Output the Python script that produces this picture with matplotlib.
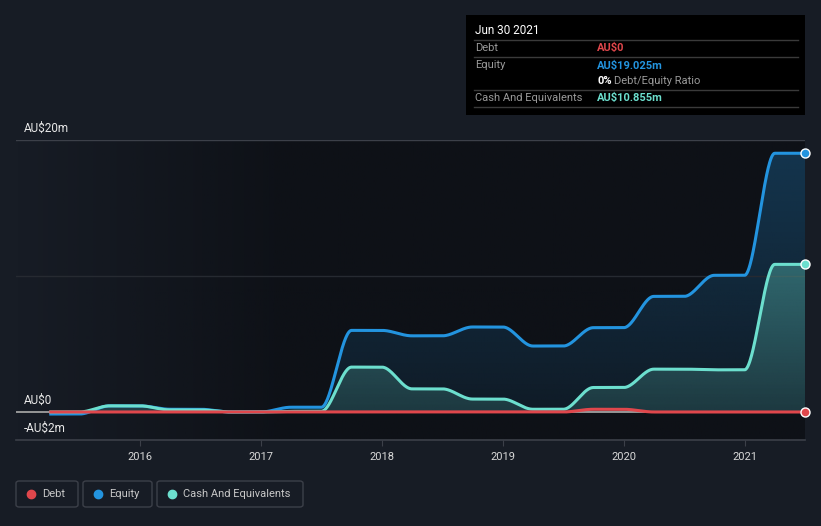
import numpy as np
import matplotlib
matplotlib.use('Agg')
from matplotlib import pyplot as plt
from matplotlib.patches import FancyBboxPatch, Rectangle
from matplotlib.lines import Line2D

plt.rcParams['font.family'] = ['Roboto', 'DejaVu Sans']

# quarterly dates (decimal years) and values in AU$ millions
dates = [2015.25, 2015.5, 2015.75, 2016.0, 2016.25, 2016.5, 2016.75, 2017.0,
         2017.25, 2017.5, 2017.75, 2018.0, 2018.25, 2018.5, 2018.75, 2019.0,
         2019.25, 2019.5, 2019.75, 2020.0, 2020.25, 2020.5, 2020.75, 2021.0,
         2021.25, 2021.5]
debt = [0, 0, 0, 0, 0, 0, 0, 0,
        0, 0, 0, 0, 0, 0, 0, 0,
        0, 0, 0.2, 0.2, 0, 0, 0, 0,
        0, 0]
equity = [-0.15, -0.15, 0.45, 0.45, 0.2, 0.2, 0.0, 0.0,
          0.35, 0.35, 6.0, 6.0, 5.6, 5.6, 6.25, 6.25,
          4.85, 4.85, 6.2, 6.2, 8.5, 8.5, 10.05, 10.05,
          19.025, 19.025]
cash = [0.0, 0.0, 0.45, 0.45, 0.15, 0.15, 0.0, 0.0,
        0.05, 0.05, 3.3, 3.3, 1.7, 1.7, 0.95, 0.95,
        0.2, 0.2, 1.8, 1.8, 3.15, 3.15, 3.1, 3.1,
        10.855, 10.855]

series_names = ['Debt', 'Equity', 'Cash And Equivalents']
series_colors = ['#e0474c', '#2394df', '#6cdfce']
year_ticks = [2016, 2017, 2018, 2019, 2020, 2021]
ytick_vals = [20, 0, -2]
ytick_labels = ['AU$20m', 'AU$0', '-AU$2m']

BG = '#171c25'
DARK = '#0e1117'
W, H = 821, 526


def pchip(x, y, xs):
    """monotone cubic interpolation (Fritsch-Carlson)"""
    x = np.asarray(x, float)
    y = np.asarray(y, float)
    h = np.diff(x)
    d = np.diff(y) / h
    n = len(x)
    m = np.zeros(n)
    for k in range(1, n - 1):
        if d[k - 1] * d[k] > 0:
            w1 = 2 * h[k] + h[k - 1]
            w2 = h[k] + 2 * h[k - 1]
            m[k] = (w1 + w2) / (w1 / d[k - 1] + w2 / d[k])
    m[0] = d[0]
    m[-1] = d[-1]
    idx = np.clip(np.searchsorted(x, xs) - 1, 0, n - 2)
    t = (xs - x[idx]) / h[idx]
    h00 = 2 * t**3 - 3 * t**2 + 1
    h10 = t**3 - 2 * t**2 + t
    h01 = -2 * t**3 + 3 * t**2
    h11 = t**3 - t**2
    return h00 * y[idx] + h10 * h[idx] * m[idx] + h01 * y[idx + 1] + h11 * h[idx] * m[idx + 1]


def px(x, y):
    return x / W, 1 - y / H


fig = plt.figure(figsize=(W / 100, H / 100), dpi=100, facecolor=BG)
ax = fig.add_axes([16 / W, (H - 440) / H, 789 / W, 300 / H])
ax.set_facecolor(BG)
xmin, xmax = 2014.975, 2021.5
ymin, ymax = -2.06, 20
ax.set_xlim(xmin, xmax)
ax.set_ylim(ymin, ymax)

# dark panel fading in from the left
grad = np.linspace(0, 1, 400)
grad = np.clip(grad / 0.35, 0, 1)
panel = np.zeros((1, 400, 4))
panel[..., :3] = matplotlib.colors.to_rgb(DARK)
panel[..., 3] = grad
ax.imshow(panel, extent=[xmin, xmax, ymin, ymax], aspect='auto', zorder=0)

xs = np.linspace(dates[0], dates[-1], 1500)
eq_s = pchip(dates, equity, xs)
ca_s = pchip(dates, cash, xs)
de_s = pchip(dates, debt, xs)


def gradient_fill(xv, yv, color, a_top, a_bot, top, z):
    poly = ax.fill_between(xv, 0, yv, color='none', lw=0, zorder=z)
    ny = 300
    img = np.zeros((ny, 2, 4))
    img[..., :3] = matplotlib.colors.to_rgb(color)
    alphas = np.linspace(a_top, a_bot, ny)
    img[..., 3] = alphas[:, None]
    im = ax.imshow(img, extent=[xv[0], xv[-1], ymin, top], aspect='auto', zorder=z)
    im.set_clip_path(poly.get_paths()[0], transform=ax.transData)
    ax.set_xlim(xmin, xmax)
    ax.set_ylim(ymin, ymax)


gradient_fill(xs, eq_s, series_colors[1], 0.28, 0.06, 19.5, 1)
gradient_fill(xs, ca_s, series_colors[2], 0.34, 0.12, 11.0, 2)

# gridlines
ax.axhline(20, color='#3c4049', lw=1, zorder=1)
ax.axhline(10, color='#262a31', lw=1, zorder=1)
ax.axhline(0, color='#a0a0a0', lw=1.3, zorder=2)

ax.plot(xs, eq_s, color=series_colors[1], lw=2.2, zorder=4, solid_capstyle='butt')
ax.plot(xs, ca_s, color=series_colors[2], lw=2.2, zorder=5, solid_capstyle='butt')
ax.plot(xs, de_s, color=series_colors[0], lw=2.2, zorder=6, solid_capstyle='butt')

for vals, c, z in [(debt, series_colors[0], 9), (equity, series_colors[1], 8), (cash, series_colors[2], 8)]:
    ax.plot([dates[-1]], [vals[-1]], 'o', ms=6.5, mfc=c, mec='white', mew=1,
            clip_on=False, zorder=z)

for s in ['top', 'right', 'left']:
    ax.spines[s].set_visible(False)
ax.spines['bottom'].set_color('#3c4049')
ax.spines['bottom'].set_linewidth(1.2)
ax.set_yticks([])
ax.set_xticks(year_ticks)
ax.set_xticklabels([str(y) for y in year_ticks])
ax.tick_params(axis='x', length=4, color='#3c4049', labelcolor='#d8d8d8',
               labelsize=8, pad=5)

# y labels
ylab_pos = {20: 128, 0: 400, -2: 428}
for v, lab in zip(ytick_vals, ytick_labels):
    fig.text(*px(24, ylab_pos[v]), lab, color='#e8e8e8', fontsize=8.5, va='center', ha='left')

# tooltip box
fig.patches.append(Rectangle(px(466, 115), 339 / W, 100 / H, transform=fig.transFigure,
                             facecolor='#000000', edgecolor='none', zorder=10))
for yl in [40, 57, 90, 107]:
    fig.add_artist(Line2D([474 / W, 798 / W], [1 - yl / H] * 2, color='#3a3a3a',
                          lw=1, zorder=11))
fig.text(*px(475, 31), 'Jun 30 2021', color='white', fontsize=8.5, va='center', zorder=12)
rows = [('Debt', 'AU$0', series_colors[0], 48),
        ('Equity', 'AU$19.025m', series_colors[1], 65.5),
        ('Cash And Equivalents', 'AU$10.855m', series_colors[2], 98)]
for lab, val, c, yy in rows:
    fig.text(*px(475, yy), lab, color='#9a9a9a', fontsize=8, va='center', zorder=12)
    fig.text(*px(597, yy), val, color=c, fontsize=8, va='center', fontweight='bold', zorder=12)
fig.text(*px(597, 81), '0%', color='white', fontsize=8, va='center', fontweight='bold', zorder=12)
fig.text(*px(614, 81), 'Debt/Equity Ratio', color='#9a9a9a', fontsize=8, va='center', zorder=12)

# legend
boxes = [(16, 78), (83, 152), (157, 303)]
for (x0, x1), name, c in zip(boxes, series_names, series_colors):
    fig.patches.append(FancyBboxPatch(px(x0, 507), (x1 - x0) / W, 26 / H,
                                      boxstyle='round,pad=0,rounding_size=0.004',
                                      transform=fig.transFigure, facecolor='none',
                                      edgecolor='#3c4049', lw=1))
    fig.add_artist(Line2D([(x0 + 15) / W], [1 - 494 / H], marker='o', ms=6,
                          color=c, lw=0))
    fig.text(*px(x0 + 26, 494), name, color='#c8c8c8', fontsize=8, va='center')

fig.savefig('out.png', dpi=100, facecolor=BG)
